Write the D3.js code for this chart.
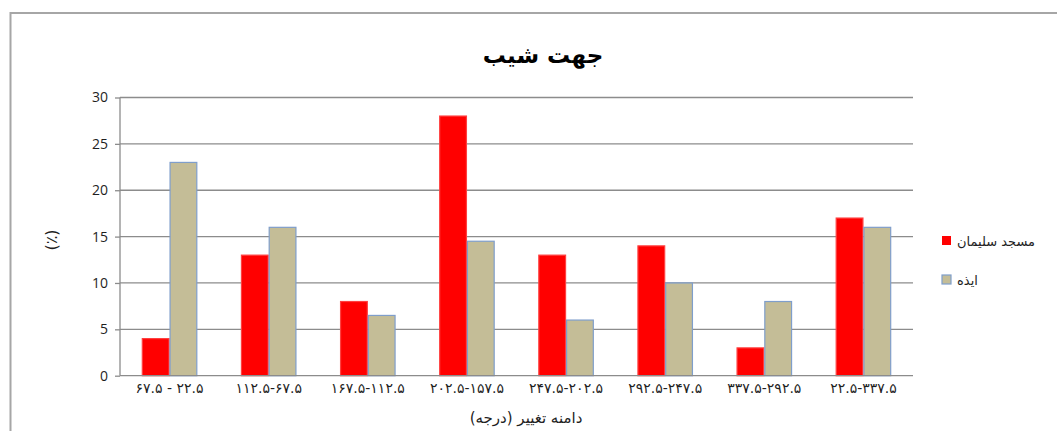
<!DOCTYPE html>
<html>
<head>
<meta charset="utf-8">
<script src="https://cdn.jsdelivr.net/npm/d3@7"></script>
<style>
  body { margin: 0; background: #fff; }
  svg { display: block; }
</style>
</head>
<body>
<div id="chart"></div>
<script>
var svgWidth = 1057;
var svgHeight = 431;

// chart values
var categories = ["۶۷.۵ - ۲۲.۵", "۱۱۲.۵-۶۷.۵", "۱۶۷.۵-۱۱۲.۵", "۲۰۲.۵-۱۵۷.۵",
                  "۲۴۷.۵-۲۰۲.۵", "۲۹۲.۵-۲۴۷.۵", "۳۳۷.۵-۲۹۲.۵", "۲۲.۵-۳۳۷.۵"];
var seriesNames = ["مسجد سلیمان", "ایذه"];
var masjedSoleyman = [4, 13, 8, 28, 13, 14, 3, 17];
var izeh = [23, 16, 6.5, 14.5, 6, 10, 8, 16];
var yTicks = [0, 5, 10, 15, 20, 25, 30];

var colors = ["#ff0000", "#c4bd97"];
var strokes = ["#ff4040", "#7f9ecb"];

var margin = { top: 97.5, right: 144, bottom: 55.3, left: 120 };
var width = svgWidth - margin.left - margin.right;
var height = svgHeight - margin.top - margin.bottom;

var svg = d3.select("#chart")
  .append("svg")
  .attr("width", svgWidth)
  .attr("height", svgHeight);

// sheet frame lines
svg.append("line")
  .attr("x1", 10).attr("x2", svgWidth).attr("y1", 13).attr("y2", 13)
  .attr("stroke", "#a6a6a6").attr("stroke-width", 2);
svg.append("line")
  .attr("x1", 10.5).attr("x2", 10.5).attr("y1", 12).attr("y2", svgHeight)
  .attr("stroke", "#a6a6a6").attr("stroke-width", 2);

var chartGroup = svg.append("g")
  .attr("transform", `translate(${margin.left}, ${margin.top})`);

// scales
var x0 = d3.scaleBand().domain(categories).range([0, width]).padding(0);
var x1 = d3.scaleBand().domain(seriesNames).range([0, x0.bandwidth()])
  .paddingInner(0).paddingOuter(0.786);
var y = d3.scaleLinear().domain([0, 30]).range([height, 0]);

// gridlines
chartGroup.append("g")
  .selectAll("line")
  .data(yTicks.filter(d => d > 0))
  .enter()
  .append("line")
  .attr("x1", 0).attr("x2", width)
  .attr("y1", d => y(d)).attr("y2", d => y(d))
  .attr("stroke", "#8c8c8c").attr("stroke-width", 1.3);

// bars
var rows = categories.map(function(c, i) {
  return { cat: c, values: [masjedSoleyman[i], izeh[i]] };
});

var groups = chartGroup.selectAll(".grp")
  .data(rows)
  .enter()
  .append("g")
  .attr("transform", d => `translate(${x0(d.cat)}, 0)`);

groups.selectAll("rect")
  .data(d => d.values.map((v, j) => ({ name: seriesNames[j], value: v, j: j })))
  .enter()
  .append("rect")
  .attr("x", d => x1(d.name) + 0.5)
  .attr("y", d => y(d.value))
  .attr("width", x1.bandwidth() - 1)
  .attr("height", d => height - y(d.value))
  .attr("fill", d => colors[d.j])
  .attr("stroke", d => strokes[d.j])
  .attr("stroke-width", 1.2);

// y axis
var leftAxis = d3.axisLeft(y).tickValues(yTicks).tickSize(5).tickPadding(7);
var yAxisG = chartGroup.append("g").call(leftAxis);
yAxisG.select(".domain").attr("stroke", "#8c8c8c").attr("stroke-width", 1.3)
  .attr("d", `M0,0V${height}`);
yAxisG.selectAll(".tick line").attr("stroke", "#8c8c8c").attr("stroke-width", 1.3);
yAxisG.selectAll("text")
  .attr("font-family", "Open Sans, sans-serif")
  .attr("font-size", "14px")
  .attr("fill", "#1f1f1f");

// x axis
var bottomAxis = d3.axisBottom(x0).tickSize(0).tickPadding(7);
var xAxisG = chartGroup.append("g")
  .attr("transform", `translate(0, ${height})`)
  .call(bottomAxis);
xAxisG.select(".domain").attr("stroke", "#8c8c8c").attr("stroke-width", 1.3)
  .attr("d", `M0,0H${width}`);
xAxisG.selectAll("text")
  .attr("font-family", "DejaVu Sans, sans-serif")
  .attr("font-size", "14px")
  .attr("fill", "#1f1f1f");

// title
svg.append("text")
  .attr("x", 543)
  .attr("y", 63)
  .attr("text-anchor", "middle")
  .attr("font-family", "DejaVu Sans, sans-serif")
  .attr("font-weight", "bold")
  .attr("font-size", "23px")
  .attr("fill", "#000")
  .text("جهت شیب");

// y axis label
svg.append("text")
  .attr("transform", "translate(57, 240) rotate(-90)")
  .attr("text-anchor", "middle")
  .attr("font-family", "DejaVu Sans, sans-serif")
  .attr("font-size", "16px")
  .attr("fill", "#1f1f1f")
  .text("(٪)");

// x axis label
svg.append("text")
  .attr("x", 526)
  .attr("y", 423)
  .attr("text-anchor", "middle")
  .attr("font-family", "DejaVu Sans, sans-serif")
  .attr("font-size", "15px")
  .attr("fill", "#1f1f1f")
  .text("دامنه تغییر (درجه)");

// legend
var legend = svg.append("g");
seriesNames.forEach(function(name, i) {
  var ly = 236 + i * 39;
  legend.append("rect")
    .attr("x", 942).attr("y", ly)
    .attr("width", 9).attr("height", 9)
    .attr("fill", colors[i])
    .attr("stroke", i === 1 ? strokes[i] : "none")
    .attr("stroke-width", 1.2);
  legend.append("text")
    .attr("x", 957).attr("y", ly + 10)
    .attr("font-family", "DejaVu Sans, sans-serif")
    .attr("font-size", "13px")
    .attr("fill", "#1f1f1f")
    .text(name);
});
</script>
</body>
</html>
